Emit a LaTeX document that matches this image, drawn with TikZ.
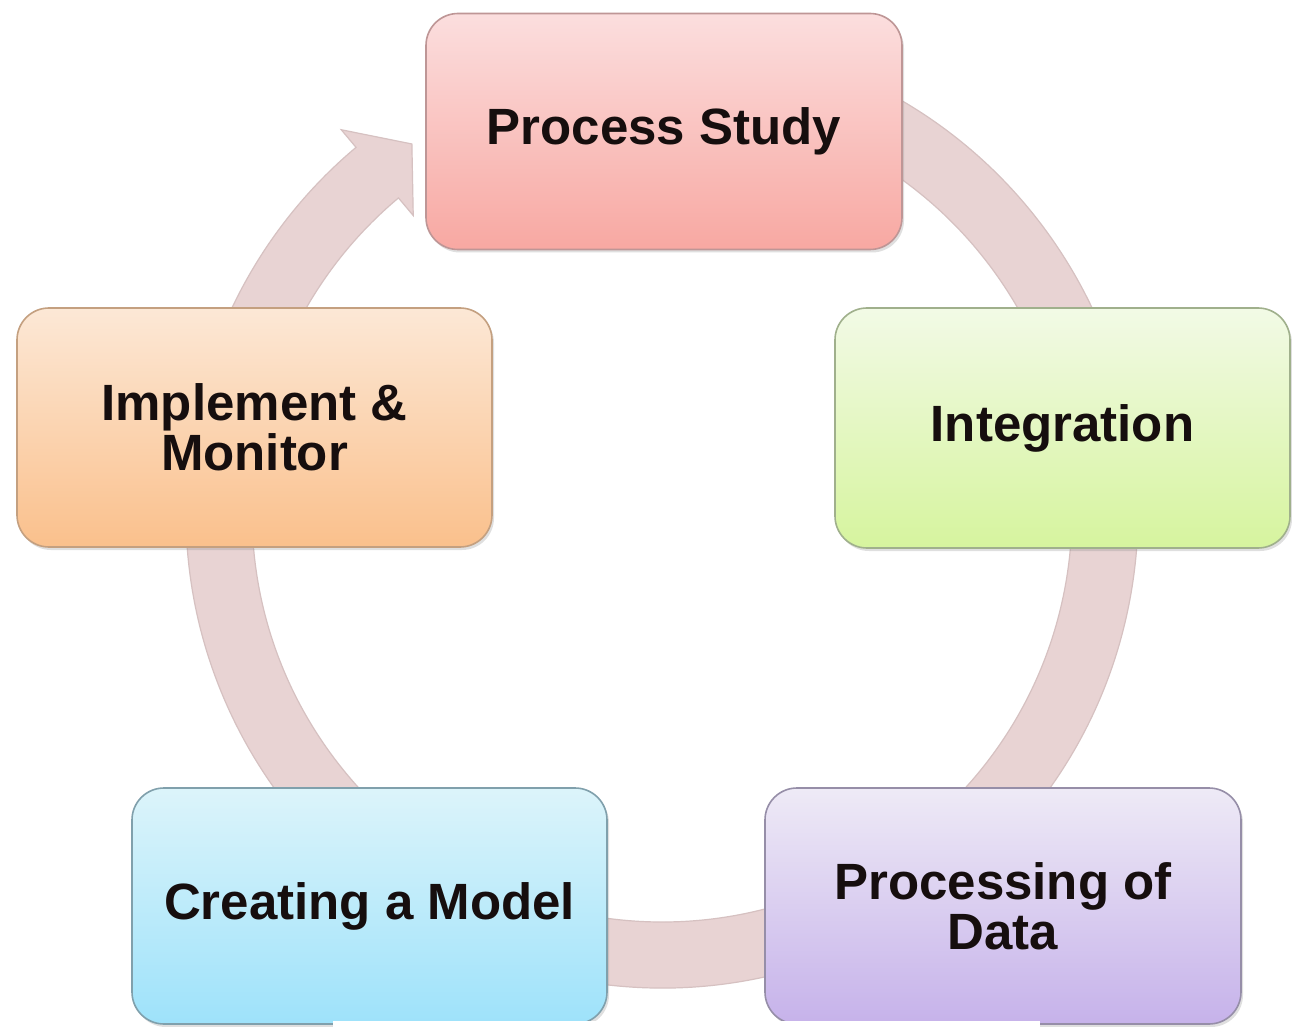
\documentclass[tikz,border=0pt]{standalone}
\usepackage{fontspec}
\setmainfont{Liberation Sans}
\usetikzlibrary{shadows}
\definecolor{ringfill}{RGB}{232,211,211}
\definecolor{ringedge}{RGB}{214,193,193}
\definecolor{textc}{RGB}{22,14,14}
\definecolor{psTop}{RGB}{251,222,222}
\definecolor{psBot}{RGB}{248,168,162}
\definecolor{psEdge}{RGB}{190,150,150}
\definecolor{inTop}{RGB}{242,250,230}
\definecolor{inBot}{RGB}{214,244,158}
\definecolor{inEdge}{RGB}{160,176,140}
\definecolor{imTop}{RGB}{252,232,214}
\definecolor{imBot}{RGB}{250,192,140}
\definecolor{imEdge}{RGB}{196,160,128}
\definecolor{cmTop}{RGB}{220,244,250}
\definecolor{cmBot}{RGB}{158,226,250}
\definecolor{cmEdge}{RGB}{128,160,172}
\definecolor{pdTop}{RGB}{238,234,246}
\definecolor{pdBot}{RGB}{198,178,234}
\definecolor{pdEdge}{RGB}{150,142,168}
\begin{document}
\begin{tikzpicture}[x=0.5pt,y=-0.5pt,
  stagebox/.style={rounded corners=16pt, line width=0.8pt,
    minimum height=118pt, align=center, inner sep=0pt,
    font=\bfseries\fontsize{25.5}{25}\selectfont, text=textc,
    drop shadow={opacity=0.25,shadow xshift=1pt,shadow yshift=-1.5pt}},
  ringstyle/.style={draw=ringedge, fill=ringfill, line width=0.6pt}
]
\useasboundingbox (0,0) rectangle (1292,1027);
\fill[white] (0,0) rectangle (1292,1027);

% circular arrow
\begin{scope}[shift={(662,512)}]
\path[ringstyle] (80:238pt) arc[start angle=80,end angle=-230,radius=238pt]
  -- (130:249.5pt) -- (124.2:222.5pt) -- (130:193.5pt) -- (130:205pt)
  arc[start angle=-230,end angle=80,radius=205pt] -- cycle;
\end{scope}

% stages
\node[stagebox, minimum width=238pt, top color=psTop, bottom color=psBot, draw=psEdge]
  (study) at (664,131.5) {Process Study};
\node[stagebox, minimum width=227.5pt, minimum height=120pt, top color=inTop, bottom color=inBot, draw=inEdge]
  (integ) at (1062.5,428) {Integration};
\node[stagebox, minimum width=237.5pt, minimum height=119.5pt, top color=imTop, bottom color=imBot, draw=imEdge]
  (impl) at (254.5,427.5) {Implement \&\\Monitor};
\node[stagebox, minimum width=237.5pt, top color=cmTop, bottom color=cmBot, draw=cmEdge]
  (model) at (369.5,906) {Creating a Model};
\node[stagebox, minimum width=238pt, top color=pdTop, bottom color=pdBot, draw=pdEdge]
  (data) at (1003,906) {Processing of\\Data};

% white strip at the bottom edge
\fill[white] (333,1021) rectangle (1040,1027);
\end{tikzpicture}
\end{document}
